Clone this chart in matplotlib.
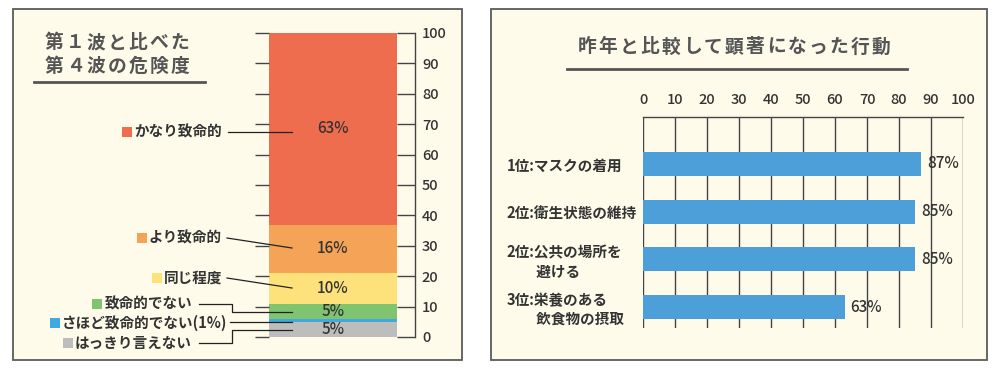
import matplotlib
matplotlib.use('Agg')
import matplotlib.pyplot as plt
from matplotlib.patches import Rectangle

plt.rcParams['font.family'] = ['Noto Sans CJK JP', 'DejaVu Sans']

# data — left: danger level of 4th wave vs 1st wave
danger_labels = ['はっきり言えない', 'さほど致命的でない(1%)', '致命的でない',
                 '同じ程度', 'より致命的', 'かなり致命的']
danger_values = [5, 1, 5, 10, 16, 63]
danger_colors = ['#bdbdbd', '#3fa9e0', '#80c46f', '#fde27c', '#f5a356', '#ef6d4f']

# data — right: notable behaviours vs last year
behav_labels = ['1位:マスクの着用', '2位:衛生状態の維持',
                '2位:公共の場所を\n\u3000\u3000避ける', '3位:栄養のある\n\u3000\u3000飲食物の摂取']
behav_values = [87, 85, 85, 63]

W, H = 999, 372
BG = '#fefbea'
C_TXT = '#333333'
C_TITLE = '#555555'
C_LINE = '#444444'

fig = plt.figure(figsize=(W / 100, H / 100), dpi=100)
fig.patch.set_facecolor('white')


def fbox(x0, y0, x1, y1):
    # pixel box (top-left origin) -> figure fraction rect
    return [x0 / W, 1 - y1 / H, (x1 - x0) / W, (y1 - y0) / H]


# overlay axis in pixel coords for panels, titles, leader lines
ov = fig.add_axes([0, 0, 1, 1], zorder=0)
ov.set_xlim(0, W)
ov.set_ylim(H, 0)
ov.axis('off')
for x0, x1 in [(13, 462), (491, 987)]:
    ov.add_patch(Rectangle((x0, 9), x1 - x0, 351, facecolor=BG,
                           edgecolor='#5a5a5a', lw=1.3))

top = fig.add_axes([0, 0, 1, 1], zorder=5)
top.set_xlim(0, W)
top.set_ylim(H, 0)
top.axis('off')


def spaced(x0, y, s, pitch=21, size=13.5):
    for i, ch in enumerate(s):
        top.text(x0 + 9 + i * pitch, y, ch, ha='center', va='center',
                 fontsize=size, weight='bold', color=C_TITLE)


# titles
spaced(45, 43, '第１波と比べた')
spaced(45, 66, '第４波の危険度')
top.plot([34, 205], [82, 82], color=C_TITLE, lw=2)
spaced(578, 47, '昨年と比較して顕著になった行動')
top.plot([567, 907], [69, 69], color=C_TITLE, lw=2)

# ---- left stacked bar ----
axl = fig.add_axes(fbox(269, 33, 415, 337), zorder=2)
axl.set_facecolor('none')
axl.set_xlim(0, 146)
axl.set_ylim(0, 100)
bottom = 0
for v, c in zip(danger_values, danger_colors):
    axl.bar(0, v, width=128, bottom=bottom, align='edge', color=c, lw=0)
    if v > 1:
        axl.text(64, bottom + v / 2, f'{v}%', ha='center', va='center',
                 fontsize=11, weight='medium', color=C_TXT)
    bottom += v
for s in ['top', 'bottom', 'left']:
    axl.spines[s].set_visible(False)
axl.spines['right'].set_color(C_LINE)
axl.spines['right'].set_linewidth(1)
axl.set_xticks([])
axl.set_yticks(range(0, 101, 10))
axl.tick_params(axis='y', left=True, right=False, labelleft=False,
                direction='out', length=10, width=1, color=C_LINE)
axr2 = axl.twinx()
axr2.set_ylim(0, 100)
axr2.set_yticks(range(0, 101, 10))
for s in ['top', 'bottom', 'left', 'right']:
    axr2.spines[s].set_visible(False)
axr2.tick_params(axis='y', direction='in', length=13, width=1, color=C_LINE,
                 labelsize=10.5, labelcolor=C_TXT, pad=5)
for lb in axr2.get_yticklabels():
    lb.set_fontweight('medium')

# legend labels with squares and leader lines
legend_pos = [  # (text right edge, text y)
    (192, 343), (227, 323), (192, 304), (222, 278), (222, 238), (222, 132)]
leaders = [
    [(199, 343), (232, 343), (232, 330), (292, 330)],
    [(230, 322), (292, 322)],
    [(199, 304), (232, 304), (232, 312), (292, 312)],
    [(227, 278), (292, 288)],
    [(227, 238), (292, 248)],
    [(228, 132), (292, 132)],
]
fig.canvas.draw()
rend = fig.canvas.get_renderer()
for lab, c, (tx, ty), pts in zip(danger_labels, danger_colors, legend_pos, leaders):
    t = top.text(tx, ty, lab, ha='right', va='center', fontsize=10.5,
                 weight='bold', color=C_TXT)
    bb = t.get_window_extent(rend)
    left_px = bb.x0 * W / fig.bbox.width
    top.add_patch(Rectangle((left_px - 12, ty - 5), 10, 10, facecolor=c, lw=0))
    xs, ys = zip(*pts)
    top.plot(xs, ys, color='#222222', lw=0.9)

# ---- right horizontal bars ----
axb = fig.add_axes(fbox(643, 117, 963, 328), zorder=2)
axb.set_facecolor('none')
ypos = list(range(len(behav_values)))
axb.barh(ypos, behav_values, height=0.5, color='#4d9fd9', lw=0, zorder=3)
axb.set_xlim(0, 100)
axb.set_ylim(3.44, -0.985)
axb.set_xticks(range(0, 101, 10))
axb.xaxis.tick_top()
axb.grid(axis='x', color=C_LINE, lw=1, zorder=1)
axb.set_axisbelow(True)
for s in ['bottom', 'left', 'right']:
    axb.spines[s].set_visible(False)
axb.spines['top'].set_color(C_LINE)
axb.spines['top'].set_linewidth(1)
axb.tick_params(axis='x', length=0, pad=7, labelsize=10.5, labelcolor=C_TXT)
for lb in axb.get_xticklabels():
    lb.set_fontweight('medium')
axb.set_yticks(ypos)
axb.set_yticklabels(behav_labels, fontsize=10.5, weight='bold', color=C_TXT,
                    ha='left', multialignment='left')
axb.tick_params(axis='y', length=0, pad=98)
for y, v in zip(ypos, behav_values):
    axb.text(v + 1.8, y, f'{v}%', ha='left', va='center', fontsize=11,
             weight='medium', color=C_TXT, zorder=4)

fig.savefig('out.png', dpi=100, facecolor='white')
